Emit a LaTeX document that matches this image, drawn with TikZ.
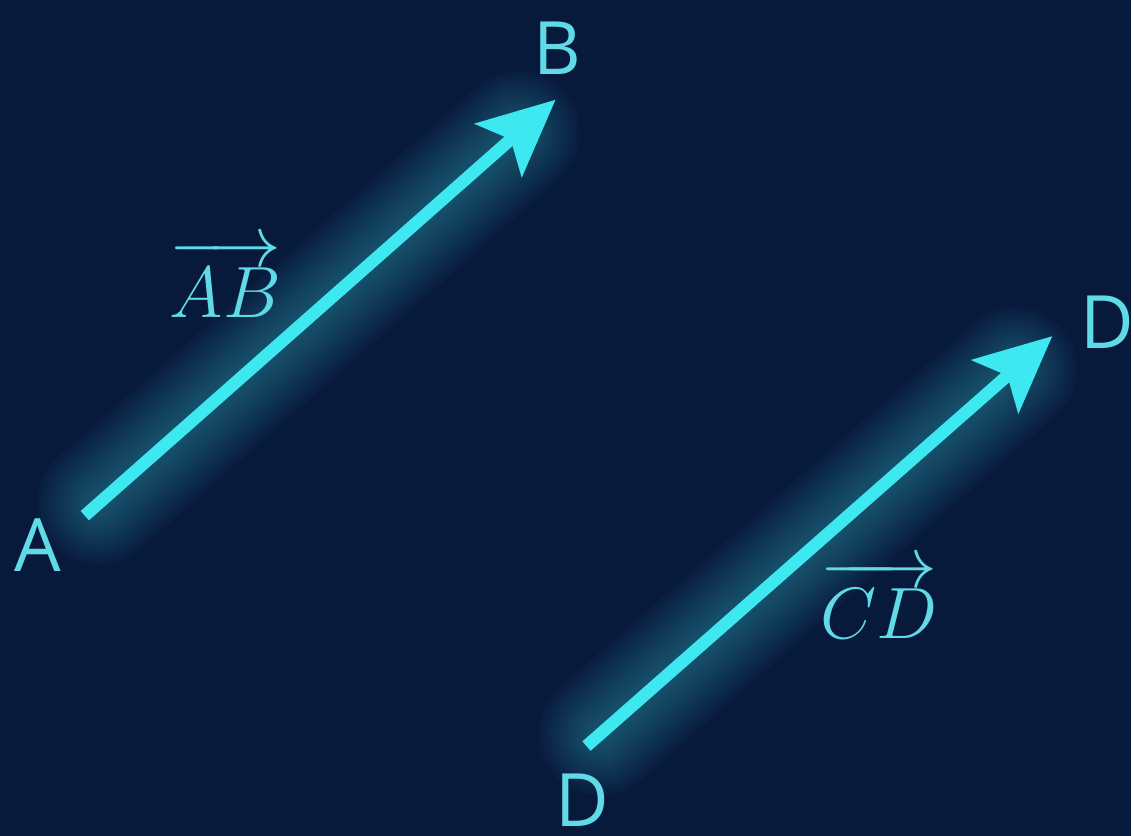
\documentclass[tikz,border=0pt]{standalone}
\usepackage{fontspec}
\newfontfamily\ptfont{Open Sans}
\usetikzlibrary{arrows.meta, calc}
\definecolor{bgnavy}{RGB}{8,26,60}
\definecolor{vcyan}{RGB}{62,232,240}
\definecolor{lcyan}{RGB}{96,218,230}

\begin{document}
\begin{tikzpicture}[
  vec/.style={draw=vcyan, line width=0.125cm, -{Stealth[length=0.76cm, width=0.70cm, inset=0.16cm]}},
  glow/.style={draw=vcyan, line cap=round},
  ptlabel/.style={font=\ptfont\fontsize{21}{25}\selectfont, text=lcyan, inner sep=0pt},
  veclabel/.style={font=\fontsize{20}{24}\selectfont, text=lcyan, inner sep=0pt, anchor=base}
]
  % === Background ===
  \fill[bgnavy] (0,0) rectangle (11.34,8.38);

  % End points
  \coordinate (pA) at (0.85,3.21);
  \coordinate (pB) at (5.57,7.38);
  \coordinate (pC) at (5.88,0.90);
  \coordinate (pD) at (10.55,5.01);

  % Glow round the vectors
  \foreach \w in {0.20,0.28,...,1.30} {
    \draw[glow, line width=\w cm, opacity=0.022] ($(pA)!0.03!(pB)$) -- ($(pA)!0.92!(pB)$);
    \draw[glow, line width=\w cm, opacity=0.022] ($(pC)!0.03!(pD)$) -- ($(pC)!0.92!(pD)$);
  }

  % === Vectors ===
  \draw[vec] (pA) -- (pB);
  \draw[vec] (pC) -- (pD);

  % Point labels
  \node[ptlabel] (labA) at (0.38,2.91) {A};
  \node[ptlabel] (labB) at (5.59,7.90) {B};
  \node[ptlabel] (labD1) at (11.10,5.15) {D};
  \node[ptlabel] (labD2) at (5.84,0.36) {D};

  % Vector names
  \node[veclabel] (nameAB) at (2.26,5.20) {$\overrightarrow{\mathstrut AB}$};
  \node[veclabel] (nameCD) at (8.81,1.98) {$\overrightarrow{\mathstrut CD}$};
\end{tikzpicture}
\end{document}
